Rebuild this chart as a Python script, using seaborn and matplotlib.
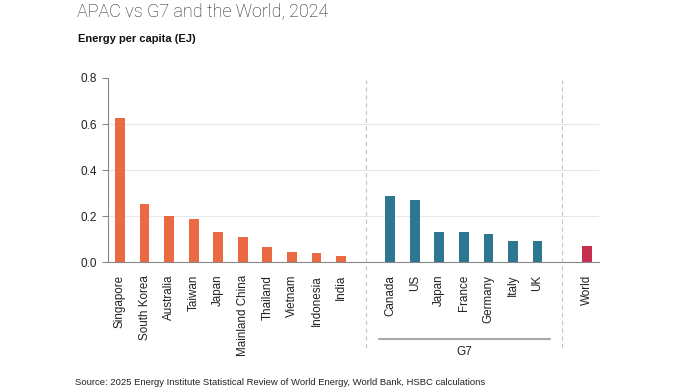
import seaborn as sns
import matplotlib.pyplot as plt
import matplotlib.transforms as mtransforms
import pandas as pd

# Data (energy per capita, EJ)
apac_names = ['Singapore', 'South Korea', 'Australia', 'Taiwan', 'Japan',
              'Mainland China', 'Thailand', 'Vietnam', 'Indonesia', 'India']
apac_vals = [0.627, 0.253, 0.201, 0.187, 0.132, 0.111, 0.068, 0.045, 0.039, 0.026]
g7_names = ['Canada', 'US', 'Japan', 'France', 'Germany', 'Italy', 'UK']
g7_vals = [0.287, 0.270, 0.132, 0.131, 0.122, 0.094, 0.091]
world_names = ['World']
world_vals = [0.072]

colors = {'APAC': '#EC6A43', 'G7': '#2E7792', 'World': '#C6304F'}

# unique keys because Japan shows up in both groups
rows = []
for n, v in zip(apac_names, apac_vals):
    rows.append(('APAC ' + n, n, v, 'APAC'))
for n, v in zip(g7_names, g7_vals):
    rows.append(('G7 ' + n, n, v, 'G7'))
for n, v in zip(world_names, world_vals):
    rows.append(('World ' + n, n, v, 'World'))
df = pd.DataFrame(rows, columns=['key', 'label', 'value', 'group'])

apac_keys = ['APAC ' + n for n in apac_names]
g7_keys = ['G7 ' + n for n in g7_names]
world_keys = ['World ' + n for n in world_names]
order = apac_keys + ['gap1'] + g7_keys + ['gap2'] + world_keys
labels = apac_names + [''] + g7_names + [''] + world_names

sns.set_style("white")
plt.rcParams['font.family'] = ['Liberation Sans', 'DejaVu Sans']

fig = plt.figure(figsize=(6.96, 3.90), dpi=100)
ax = fig.add_axes([0.1547, 0.3274, 0.7059, 0.4726])

sns.barplot(data=df, x='key', y='value', hue='group', palette=colors,
            order=order, width=0.4, dodge=False, legend=False, ax=ax,
            saturation=1, edgecolor='none')

ax.set_xlim(-0.5, len(order) - 0.5)
ax.set_ylim(0, 0.8)
ax.set_yticks([0, 0.2, 0.4, 0.6, 0.8])
ax.set_yticklabels(['0.0', '0.2', '0.4', '0.6', '0.8'])
ax.set_xticks(range(len(order)))
ax.set_xticklabels(labels, rotation=90, fontsize=8.4)
ax.set_xticks([i - 0.5 for i in range(len(order) + 1)], minor=True)
ax.set_xlabel('')
ax.set_ylabel('')

ax.tick_params(axis='x', which='major', length=0, pad=9, colors='#222222')
ax.tick_params(axis='x', which='minor', length=4, width=0.8, color='#888888')
ax.tick_params(axis='y', length=4, width=0.8, color='#888888', labelsize=8.5,
               labelcolor='#222222', pad=4, left=True)

for s in ['top', 'right']:
    ax.spines[s].set_visible(False)
for s in ['left', 'bottom']:
    ax.spines[s].set_color('#888888')
    ax.spines[s].set_linewidth(0.8)

# light gridlines, none at the top
for yv in [0.2, 0.4, 0.6]:
    ax.axhline(yv, color='#E8E8E8', linewidth=0.8, zorder=0)

# group separators and the G7 bracket
trans = mtransforms.blended_transform_factory(ax.transData, ax.transAxes)
for xpos in [order.index('gap1'), order.index('gap2')]:
    ax.plot([xpos, xpos], [-0.465, 0.99], transform=trans, clip_on=False,
            color='#C4C4C4', linewidth=0.8, dashes=(4, 3))
ax.plot([10.55, 17.5], [-0.418, -0.418], transform=trans, clip_on=False,
        color='#A8A8A8', linewidth=1.5)
ax.text(14.0, -0.485, 'G7', transform=trans, ha='center', va='center',
        fontsize=8.5, color='#222222')

fig.text(0.111, 0.959, 'APAC vs G7 and the World, 2024', fontsize=13,
         family=['Roboto', 'DejaVu Sans'], fontweight='light', color='#222222')
fig.text(0.112, 0.892, 'Energy per capita (EJ)', fontsize=8,
         fontweight='bold', color='#111111')
fig.text(0.108, 0.012, 'Source: 2025 Energy Institute Statistical Review of World Energy, '
         'World Bank, HSBC calculations', fontsize=6.8, color='#222222')

plt.savefig('out.png', dpi=100)
